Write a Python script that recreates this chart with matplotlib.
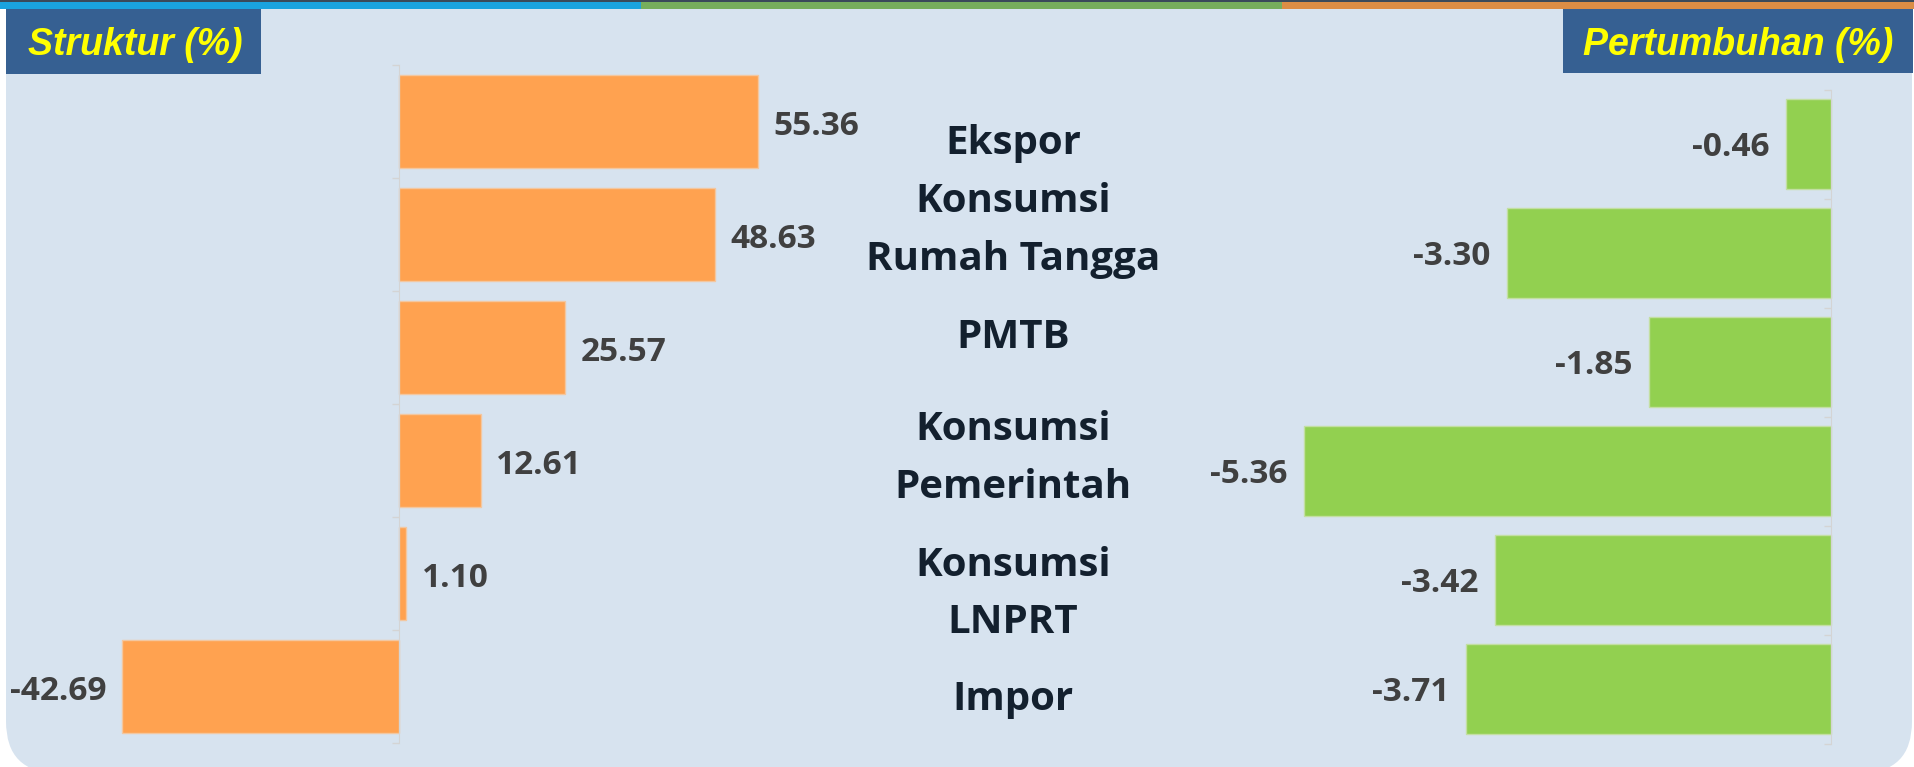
import numpy as np
import matplotlib.pyplot as plt
from matplotlib.patches import Rectangle, FancyBboxPatch

# data, top to bottom
kategori = ['Ekspor', 'Konsumsi\nRumah Tangga', 'PMTB', 'Konsumsi\nPemerintah',
            'Konsumsi\nLNPRT', 'Impor']
struktur = [55.36, 48.63, 25.57, 12.61, 1.10, -42.69]
pertumbuhan = [-0.46, -3.30, -1.85, -5.36, -3.42, -3.71]

W, H = 1915, 767
BG = '#D7E3EF'
BOX = '#366092'
ORANGE = '#FFA250'
GREEN = '#92D050'
AXC = '#D4D4D4'

fig = plt.figure(figsize=(W / 100, H / 100), dpi=100)
fig.patch.set_facecolor('white')


def fx(px):
    return px / W


def fy(py):
    return 1 - py / H


# panel with rounded bottom corners (bottom edge just below the image)
fig.patches.append(FancyBboxPatch((fx(6), fy(773)), fx(1906), 764 / H,
                                  boxstyle='round,pad=0,rounding_size=0.027',
                                  mutation_aspect=W / H,
                                  transform=fig.transFigure, facecolor=BG,
                                  edgecolor='none', zorder=0))
fig.patches.append(Rectangle((fx(6), fy(300)), fx(1906), 291 / H,
                             transform=fig.transFigure, facecolor=BG,
                             edgecolor='none', zorder=0))

# top strip
for x0, x1, c in [(0, 641, '#1AA3DF'), (641, 1282, '#76AE5C'), (1282, 1915, '#DB8D45')]:
    fig.patches.append(Rectangle((fx(x0), fy(9)), fx(x1 - x0), 9 / H,
                                 transform=fig.transFigure, facecolor=c,
                                 edgecolor='none', zorder=1))
fig.patches.append(Rectangle((0, fy(2)), 1, 2 / H, transform=fig.transFigure,
                             facecolor='#3A4A5A', edgecolor='none', zorder=1))

# title boxes
fig.patches.append(Rectangle((fx(6), fy(74)), fx(255), 65 / H,
                             transform=fig.transFigure, facecolor=BOX,
                             edgecolor='none', zorder=1))
fig.patches.append(Rectangle((fx(1563), fy(73)), fx(350), 64 / H,
                             transform=fig.transFigure, facecolor=BOX,
                             edgecolor='none', zorder=1))
fig.text(fx(135), fy(55), 'Struktur (%)', ha='center', va='baseline',
         color='#FFFF00', fontsize=27, fontweight='bold', fontstyle='italic',
         family='Liberation Sans')
fig.text(fx(1738), fy(55), 'Pertumbuhan (%)', ha='center', va='baseline',
         color='#FFFF00', fontsize=27, fontweight='bold', fontstyle='italic',
         family='Liberation Sans')

y = np.arange(len(kategori))


def style_axis(ax):
    ax.set_zorder(5)
    ax.set_facecolor('none')
    for s in ['top', 'right', 'bottom']:
        ax.spines[s].set_visible(False)
    ax.spines['left'].set_position(('data', 0))
    ax.spines['left'].set_color(AXC)
    ax.set_xticks([])
    ax.set_yticks(np.arange(-0.5, len(kategori), 1.0))
    ax.set_yticklabels([])
    ax.tick_params(axis='y', direction='out', length=5, color=AXC, width=1)
    ax.set_ylim(len(kategori) - 0.5, -0.5)


# left chart: struktur
ax1 = fig.add_axes([0, 24 / H, 880 / W, 678 / H])
ax1.barh(y, struktur, height=0.82, color=ORANGE, edgecolor='#F3C7A0', linewidth=1)
ax1.set_xlim(-61.5, 74.1)
style_axis(ax1)
for yi, v in zip(y, struktur):
    off = 11 if v >= 0 else -11
    ax1.annotate(f'{v:.2f}', (v, yi), xytext=(off, -3.5), textcoords='offset points',
                 ha='left' if v >= 0 else 'right', va='center',
                 fontsize=24, fontweight='bold', color='#404040', family='Open Sans')

# right chart: pertumbuhan
ax2 = fig.add_axes([1200 / W, 23.5 / H, 715 / W, 654 / H])
ax2.barh(y, pertumbuhan, height=0.83, color=GREEN, edgecolor='#C3DFA2', linewidth=1)
ax2.set_xlim(-6.419, 0.8545)
style_axis(ax2)
for yi, v in zip(y, pertumbuhan):
    ax2.annotate(f'{v:.2f}', (v, yi), xytext=(-12, -2.5), textcoords='offset points',
                 ha='right', va='center',
                 fontsize=24, fontweight='bold', color='#404040', family='Open Sans')

# category labels in the middle, one text per line
baselines = [[154], [212, 270], [348], [440, 498], [576, 633], [710]]
for lab, bl in zip(kategori, baselines):
    for line, b in zip(lab.split('\n'), bl):
        fig.text(fx(1013), fy(b), line, ha='center', va='baseline',
                 fontsize=29, fontweight='bold', color='#13202E', family='Open Sans')

fig.savefig('out.png', dpi=100, facecolor=fig.get_facecolor())
